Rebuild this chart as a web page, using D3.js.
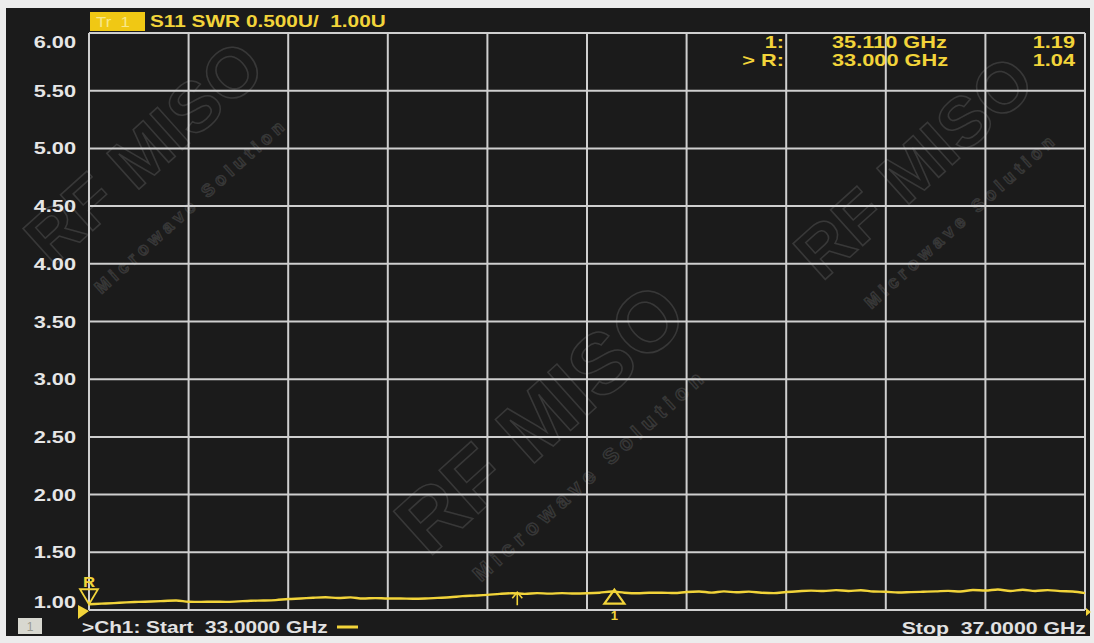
<!DOCTYPE html>
<html><head><meta charset="utf-8">
<script src="https://cdn.jsdelivr.net/npm/d3@7"></script>
<style>html,body{margin:0;padding:0;background:#ececec;}svg{display:block;}</style>
</head><body>
<svg id="c" width="1094" height="643"></svg>
<script>
// ---- data ----
const freqStart = 33.0, freqStop = 37.0;
const yTicks = [1.00,1.50,2.00,2.50,3.00,3.50,4.00,4.50,5.00,5.50,6.00];
const freqs = [33.00,33.05,33.10,33.15,33.20,33.25,33.30,33.35,33.40,33.45,33.50,33.55,33.60,33.65,33.70,33.75,33.80,33.85,33.90,33.95,
34.00,34.05,34.10,34.15,34.20,34.25,34.30,34.35,34.40,34.45,34.50,34.55,34.60,34.65,34.70,34.75,34.80,34.85,34.90,34.95,
35.00,35.05,35.10,35.15,35.20,35.25,35.30,35.35,35.40,35.45,35.50,35.55,35.60,35.65,35.70,35.75,35.80,35.85,35.90,35.95,
36.00,36.05,36.10,36.15,36.20,36.25,36.30,36.35,36.40,36.45,36.50,36.55,36.60,36.65,36.70,36.75,36.80,36.85,36.90,36.95,37.00];
const swr = [1.050,1.055,1.060,1.066,1.070,1.074,1.078,1.082,1.072,1.070,1.072,1.070,1.075,1.080,1.082,1.086,1.095,1.100,1.106,1.110,
1.104,1.109,1.100,1.103,1.100,1.100,1.098,1.100,1.105,1.110,1.120,1.125,1.131,1.140,1.145,1.140,1.146,1.142,1.146,1.143,
1.145,1.150,1.160,1.150,1.145,1.149,1.150,1.147,1.156,1.160,1.151,1.161,1.154,1.159,1.150,1.146,1.156,1.163,1.168,1.164,
1.172,1.165,1.171,1.160,1.158,1.152,1.155,1.158,1.161,1.166,1.160,1.173,1.169,1.178,1.165,1.175,1.165,1.172,1.164,1.160,1.146];
const header = "S11 SWR 0.500U/  1.00U";
const markerRows = [["1:", "35.110 GHz", "1.19"], ["> R:", "33.000 GHz", "1.04"]];
const marker1Freq = 35.110, markerRFreq = 33.000, marker1Val = 1.15, markerRVal = 1.05;
const arrowMarkerFreq = 34.72, arrowMarkerVal = 1.12;
const startLabel = ">Ch1: Start  33.0000 GHz", stopLabel = "Stop  37.0000 GHz";

// ---- drawing ----
const svg = d3.select("#c");
const L = 89, R = 1085, T = 33, B = 610;
const x = d3.scaleLinear().domain([freqStart, freqStop]).range([L, R]);
const y = d3.scaleLinear().domain([1, 6]).range([B, T]);
const font = "'Liberation Sans', Arial, sans-serif";
const yellow = "#f2d43a";
const SX = 1.36;

function stext(parent, tx, ty, str, opts) {
  const o = Object.assign({anchor:"start", fill:yellow, size:16, sx:SX, weight:"bold"}, opts||{});
  return parent.append("text")
    .attr("transform", `translate(${tx},${ty}) scale(${o.sx},1)`)
    .attr("text-anchor", o.anchor).attr("fill", o.fill)
    .attr("font-family", font).attr("font-weight", o.weight).attr("font-size", o.size)
    .style("white-space","pre").text(str);
}

svg.append("rect").attr("x",0).attr("y",0).attr("width",1094).attr("height",643).attr("fill","#ececec");
svg.append("rect").attr("x",6).attr("y",8).attr("width",1084).attr("height",628).attr("fill","#1b1b1b");

// watermark
const wm = svg.append("g").attr("fill","none").attr("stroke","#ffffff").attr("stroke-opacity",0.13).attr("stroke-width",1.5)
  .style("font-family",font).style("font-weight","bold");
[[160,170,70],[560,440,85],[930,185,70]].forEach(([cx,cy,fs])=>{
  wm.append("text").attr("transform",`translate(${cx},${cy}) rotate(-42)`).attr("text-anchor","middle")
    .attr("font-size",fs).text("RF MISO");
  wm.append("text").attr("transform",`translate(${cx+35},${cy+40}) rotate(-42)`).attr("text-anchor","middle")
    .attr("font-size",fs*0.25).attr("letter-spacing",fs*0.07).text("Microwave Solution");
});

// grid
const xGrid = d3.range(0, 11).map(i => freqStart + i * (freqStop - freqStart) / 10);
const g = svg.append("g").attr("stroke","#cfcfcf").attr("stroke-width",2);
g.selectAll("line.v").data(xGrid).join("line").attr("class","v")
  .attr("x1",d=>x(d)).attr("x2",d=>x(d)).attr("y1",T).attr("y2",B);
g.selectAll("line.h").data(yTicks).join("line").attr("class","h")
  .attr("x1",L).attr("x2",R).attr("y1",d=>y(d)).attr("y2",d=>y(d));

// y labels
const yl = svg.append("g");
yTicks.forEach(d => {
  stext(yl, 76, y(d) + (d===6 ? 9 : d===1 ? -8 : 0) + 6, d3.format(".2f")(d), {anchor:"end", fill:"#e6e6e6"});
});

// header
svg.append("rect").attr("x",90).attr("y",12).attr("width",55).attr("height",19).attr("fill","#f0c814");
stext(svg, 96, 27, "Tr  1", {fill:"#f8e88a", weight:"normal", size:14, sx:1.2});
stext(svg, 150, 27, header, {sx:1.3});

// marker readout
const mr = svg.append("g");
markerRows.forEach((r,i)=>{
  const yy = 48 + i*18;
  stext(mr, 784, yy, r[0], {anchor:"end"});
  stext(mr, 832, yy, r[1]);
  stext(mr, 1075, yy, r[2], {anchor:"end"});
});

// trace
const line = d3.line().x((d,i)=>x(freqs[i])).y(d=>y(d)).curve(d3.curveMonotoneX);
svg.append("path").datum(swr).attr("d",line).attr("fill","none").attr("stroke",yellow).attr("stroke-width",2.4);

// reference marker R
const rx = x(markerRFreq), ry = y(markerRVal);
svg.append("path").attr("d",`M${rx-9},${ry-15} L${rx+9},${ry-15} L${rx},${ry} Z`)
  .attr("fill","none").attr("stroke",yellow).attr("stroke-width",1.8);
stext(svg, rx, ry-17, "R", {anchor:"middle", size:14, sx:1.2});
svg.append("path").attr("d",`M${rx-11},${B-5} L${rx},${B+1} L${rx-11},${B+9} Z`).attr("fill",yellow);
svg.append("path").attr("d",`M${R+1},${B-2} L${R+6},${B+2} L${R+1},${B+6} Z`).attr("fill",yellow);

// marker 1
const m1x = x(marker1Freq), m1y = y(marker1Val);
svg.append("path").attr("d",`M${m1x},${m1y-3} L${m1x+10},${m1y+11} L${m1x-10},${m1y+11} Z`)
  .attr("fill","none").attr("stroke",yellow).attr("stroke-width",2.2);
stext(svg, m1x, m1y+27, "1", {anchor:"middle", size:13, sx:1});

// small arrow marker
const ax = x(arrowMarkerFreq), ay = y(arrowMarkerVal);
svg.append("path").attr("d",`M${ax},${ay-4} L${ax},${ay+9} M${ax-5},${ay+2} L${ax},${ay-4} L${ax+5},${ay+2}`)
  .attr("fill","none").attr("stroke",yellow).attr("stroke-width",1.6);

// bottom bar
svg.append("rect").attr("x",18).attr("y",618).attr("width",24).attr("height",16).attr("fill","#d8d8d0");
stext(svg, 30, 631, "1", {anchor:"middle", fill:"#9a9a90", size:12, sx:1, weight:"normal"});
stext(svg, 82, 633, startLabel, {fill:"#e2e2e2", sx:1.3});
svg.append("line").attr("x1",337).attr("x2",358).attr("y1",627).attr("y2",627).attr("stroke",yellow).attr("stroke-width",3);
stext(svg, 1086, 634, stopLabel, {anchor:"end", fill:"#e2e2e2", sx:1.33});
</script>
</body></html>
